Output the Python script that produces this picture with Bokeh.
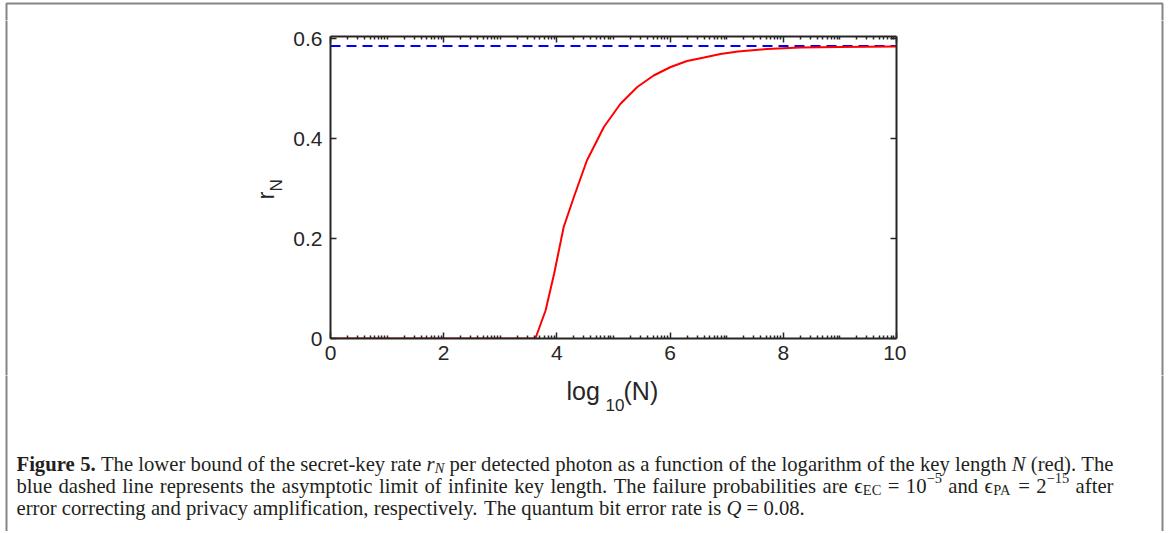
import math
from bokeh.plotting import figure
from bokeh.layouts import column, row
from bokeh.models import ColumnDataSource, FixedTicker, LinearAxis, Range1d
from bokeh.embed import file_html
from bokeh.resources import INLINE
from bokeh.core.properties import value

# ---------------- data ----------------
log10_N = [0.0, 3.62, 3.80, 3.95, 4.12, 4.30, 4.53, 4.83, 5.12, 5.42, 5.71,
           6.01, 6.30, 6.60, 6.89, 7.20, 7.71, 8.30, 9.00, 10.0]
r_N = [0.0, 0.0, 0.056, 0.129, 0.223, 0.283, 0.356, 0.423, 0.469, 0.503, 0.526,
       0.543, 0.555, 0.562, 0.569, 0.574, 0.579, 0.582, 0.583, 0.584]
limit_x = [0.0, 10.0]
limit_y = [0.585, 0.585]

x_major = [0, 2, 4, 6, 8, 10]
y_major = [0, 0.2, 0.4, 0.6]
y_tick_labels = {0: "0", 0.2: "0.2", 0.4: "0.4", 0.6: "0.6"}

# caption: lines -> words -> runs (text, style, position)
caption_lines = [
    [[("Figure", "bold", "")], [("5.", "bold", "")], [("The", "normal", "")],
     [("lower", "normal", "")], [("bound", "normal", "")], [("of", "normal", "")],
     [("the", "normal", "")], [("secret-key", "normal", "")], [("rate", "normal", "")],
     [("r", "italic", ""), ("N", "italic", "sub")], [("per", "normal", "")],
     [("detected", "normal", "")], [("photon", "normal", "")], [("as", "normal", "")],
     [("a", "normal", "")], [("function", "normal", "")], [("of", "normal", "")],
     [("the", "normal", "")], [("logarithm", "normal", "")], [("of", "normal", "")],
     [("the", "normal", "")], [("key", "normal", "")], [("length", "normal", "")],
     [("N", "italic", "")], [("(red).", "normal", "")], [("The", "normal", "")]],
    [[("blue", "normal", "")], [("dashed", "normal", "")], [("line", "normal", "")],
     [("represents", "normal", "")], [("the", "normal", "")], [("asymptotic", "normal", "")],
     [("limit", "normal", "")], [("of", "normal", "")], [("infinite", "normal", "")],
     [("key", "normal", "")], [("length.", "normal", "")], [("The", "normal", "")],
     [("failure", "normal", "")], [("probabilities", "normal", "")], [("are", "normal", "")],
     [("\u03f5", "normal", ""), ("EC", "normal", "sub")], [("=", "normal", "")],
     [("10", "normal", ""), ("\u22125", "normal", "sup")], [("and", "normal", "")],
     [("\u03f5", "normal", ""), ("PA", "normal", "sub")], [("=", "normal", "")],
     [("2", "normal", ""), ("\u221215", "normal", "sup")], [("after", "normal", "")]],
    [[("error", "normal", "")], [("correcting", "normal", "")], [("and", "normal", "")],
     [("privacy", "normal", "")], [("amplification,", "normal", "")],
     [("respectively.", "normal", "")], [("The", "normal", "")], [("quantum", "normal", "")],
     [("bit", "normal", "")], [("error", "normal", "")], [("rate", "normal", "")],
     [("is", "normal", "")], [("Q", "italic", "")], [("=", "normal", "")],
     [("0.08.", "normal", "")]],
]

# ---------------- font metrics (Times / Liberation Serif, per 1000 em) ----------------
REG = {" ": 250, ".": 250, ",": 250, "-": 333, "(": 333, ")": 333, "=": 564,
       "\u2212": 564, "\u03f5": 420, "A": 722, "C": 667, "E": 611, "P": 556,
       "T": 611, "Q": 722, "N": 722,
       "a": 444, "b": 500, "c": 444, "d": 500, "e": 444, "f": 333, "g": 500,
       "h": 500, "i": 278, "j": 278, "k": 500, "l": 278, "m": 778, "n": 500,
       "o": 500, "p": 500, "q": 500, "r": 333, "s": 389, "t": 278, "u": 500,
       "v": 500, "w": 722, "x": 500, "y": 500, "z": 444}
for d in "0123456789":
    REG[d] = 500
BOLD = {"F": 611, "i": 278, "g": 500, "u": 556, "r": 444, "e": 444, " ": 250,
        "5": 500, ".": 250}
ITAL = {"r": 389, "N": 667, "Q": 722}
TABLES = {"normal": REG, "bold": BOLD, "italic": ITAL}
SUB_SCALE = 0.7


def run_w(text, style, size):
    t = TABLES[style]
    return sum(t.get(c, REG.get(c, 500)) for c in text) * size / 1000.0


def word_w(word, fs):
    return sum(run_w(t, st, fs * (SUB_SCALE if pos else 1.0)) for t, st, pos in word)


# ---------------- layout (page pixels) ----------------
PAGE_W = 1168
TOP_H = 20
CHART_X0, CHART_X1 = 290, 906       # chart figure spans these page x
CHART_Y1 = 375                       # chart figure bottom (page y)
CAP_H = 156
FRAME_L, FRAME_R, FRAME_T, FRAME_B = 330, 896, 36, 338
BORDER_L, BORDER_R, BORDER_T = 6, 1162, 3
BORDER_COLOR = "#858585"
AX = "#262626"


def blank(x0, x1, y0, y1):
    """A figure whose whole canvas is its frame; data coords = page pixels (y up = -page y)."""
    f = figure(width=x1 - x0, height=y1 - y0, output_backend="svg", toolbar_location=None,
               x_range=Range1d(x0, x1), y_range=Range1d(-y1, -y0),
               min_border=0, min_border_left=0, min_border_right=0,
               min_border_top=0, min_border_bottom=0)
    f.axis.visible = False
    f.grid.visible = False
    f.outline_line_color = None
    f.background_fill_color = "white"
    f.border_fill_color = "white"
    return f


# ---------------- main chart ----------------
p = figure(width=CHART_X1 - CHART_X0, height=CHART_Y1 - TOP_H,
           output_backend="svg", toolbar_location=None,
           x_range=Range1d(0, 10), y_range=Range1d(0, 0.604),
           min_border_left=FRAME_L - CHART_X0, min_border_right=CHART_X1 - FRAME_R,
           min_border_top=FRAME_T - TOP_H, min_border_bottom=CHART_Y1 - FRAME_B)
p.outline_line_color = None
p.grid.visible = False
p.background_fill_color = "white"
p.border_fill_color = "white"

x_minor = sorted(set(round(k + math.log10(m), 6) for k in range(10) for m in range(1, 10)) - set(x_major))
xticker = FixedTicker(ticks=x_major, minor_ticks=x_minor)
yticker = FixedTicker(ticks=y_major, minor_ticks=[])


def style_axis(ax, labels):
    ax.axis_line_color = AX
    ax.axis_line_width = 2
    ax.major_tick_line_color = AX
    ax.major_tick_line_width = 1.5
    ax.minor_tick_line_color = AX
    ax.minor_tick_line_width = 1.5
    ax.major_tick_in = 6
    ax.major_tick_out = 0
    ax.minor_tick_in = 3
    ax.minor_tick_out = 0
    ax.major_label_text_font = "Liberation Sans"
    if labels:
        ax.major_label_text_font_size = "21px"
        ax.major_label_text_color = AX
    else:
        ax.major_label_text_font_size = "0px"
        ax.major_label_text_color = None
        ax.major_label_standoff = 0


p.xaxis.ticker = xticker
p.yaxis.ticker = yticker
style_axis(p.xaxis[0], True)
style_axis(p.yaxis[0], True)
p.xaxis.major_label_standoff = 7
p.yaxis.major_label_standoff = 8
p.yaxis.major_label_overrides = y_tick_labels

top = LinearAxis(ticker=xticker)
style_axis(top, False)
p.add_layout(top, "above")
right = LinearAxis(ticker=yticker)
style_axis(right, False)
p.add_layout(right, "right")

p.line(limit_x, limit_y, line_color="#0000ff", line_width=2, line_dash="10 6")
p.line(log10_N, r_N, line_color="#ff0000", line_width=2)

# ---------------- surrounding panels ----------------
top_fig = blank(0, PAGE_W, 0, TOP_H)
left_fig = blank(0, CHART_X0, TOP_H, CHART_Y1)
right_fig = blank(CHART_X1, PAGE_W, TOP_H, CHART_Y1)
cap_fig = blank(0, PAGE_W, CHART_Y1, CHART_Y1 + CAP_H)

# page border (journal figure box)
top_fig.line([BORDER_L, BORDER_L, BORDER_R, BORDER_R], [-40, -BORDER_T, -BORDER_T, -40],
             line_color=BORDER_COLOR, line_width=2)
for f in (left_fig, right_fig, cap_fig):
    f.segment(x0=[BORDER_L, BORDER_R], y0=[0, 0], x1=[BORDER_L, BORDER_R], y1=[-900, -900],
              line_color=BORDER_COLOR, line_width=2)

# axis labels
xlab = ColumnDataSource(dict(x=[566, 605, 623], y=[-390, -404, -390],
                             text=["log", "10", "(N)"], size=["25px", "17px", "25px"]))
cap_fig.text(x="x", y="y", text="text", source=xlab, text_font=value("Liberation Sans"),
             text_font_size="size", text_color=AX, text_align="left",
             text_baseline="alphabetic")
ylab = ColumnDataSource(dict(x=[265, 276], y=[-199, -191], text=["r", "N"],
                             size=["24px", "17px"]))
left_fig.text(x="x", y="y", text="text", source=ylab, angle=math.pi / 2,
              text_font=value("Liberation Sans"), text_font_size="size", text_color=AX,
              text_align="left", text_baseline="alphabetic")

# caption
CAP_LEFT, CAP_RIGHT = 16, 1113
CAP_BASE0, CAP_LEAD = 463, 22
unit = [sum(word_w(w, 1000.0) for w in line) + 250.0 * (len(line) - 1) for line in caption_lines[:2]]
FS = min((CAP_RIGHT - CAP_LEFT) * 1000.0 / u for u in unit)

cap = dict(x=[], y=[], text=[], style=[], size=[])
for li, words in enumerate(caption_lines):
    base = CAP_BASE0 + CAP_LEAD * li
    widths = [word_w(w, FS) for w in words]
    if li < 2:
        gap = (CAP_RIGHT - CAP_LEFT - sum(widths)) / (len(words) - 1)
    else:
        gap = 0.25 * FS
    x = CAP_LEFT
    for w, wd in zip(words, widths):
        xx = x
        for t, st, pos in w:
            size = FS * (SUB_SCALE if pos else 1.0)
            dy = {"": 0.0, "sub": 0.2 * FS, "sup": -0.38 * FS}[pos]
            cap["x"].append(xx)
            cap["y"].append(-(base + dy))
            cap["text"].append(t)
            cap["style"].append(st)
            cap["size"].append("%.2fpx" % size)
            xx += run_w(t, st, size)
        x += wd + gap

cap_fig.text(x="x", y="y", text="text", source=ColumnDataSource(cap),
             text_font=value("Liberation Serif"), text_font_style="style",
             text_font_size="size", text_color="#231f20",
             text_align="left", text_baseline="alphabetic")

layout = column(top_fig, row(column(left_fig), column(p), column(right_fig)), cap_fig)

open("out.html", "w").write(file_html(layout, INLINE))
